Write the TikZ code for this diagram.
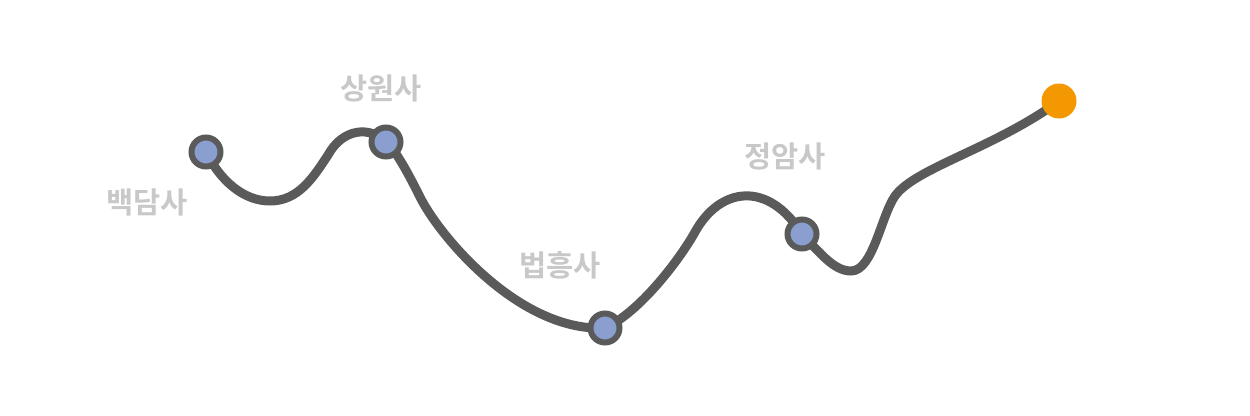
\documentclass[tikz,border=0pt]{standalone}
\usepackage{fontspec}
\newfontfamily\kr{Noto Sans CJK KR}[BoldFont={* Bold}]
\definecolor{pathgray}{RGB}{90,90,90}
\definecolor{stopblue}{RGB}{138,159,207}
\definecolor{endorange}{RGB}{243,152,0}
\definecolor{labelgray}{RGB}{200,200,200}
\tikzset{
  route/.style={draw=pathgray, line width=9pt, line cap=round},
  stopnode/.style={circle, draw=pathgray, fill=stopblue, line width=6pt, minimum size=29pt, inner sep=0pt},
  endnode/.style={circle, fill=endorange, minimum size=35pt, inner sep=0pt},
  stoplabel/.style={text=labelgray, font=\kr\bfseries\fontsize{29.5}{32}\selectfont, inner sep=0pt}
}
\begin{document}
\begin{tikzpicture}[x=1pt,y=-1pt]
\useasboundingbox (0,0) rectangle (1250,415);
\coordinate (A) at (206,152);
\coordinate (B) at (386,142);
\coordinate (C) at (605,328);
\coordinate (D) at (802,234);
\coordinate (E) at (1059,101);
\coordinate (m1) at (270,201);
\coordinate (m2) at (328,155);
\coordinate (m3) at (420,197);
\coordinate (m4) at (695,232);
\coordinate (m5) at (851,271);
\coordinate (m6) at (895,196);
\draw[route] (A) .. controls (220,180) and (243,201) .. (m1)
  .. controls (298,201) and (313,178) .. (m2)
  .. controls (343,128) and (370,126) .. (B)
  .. controls (396,150) and (410,177) .. (m3)
  .. controls (440,237) and (520,332) .. (C)
  .. controls (640,312) and (680,259) .. (m4)
  .. controls (720,187) and (768,180) .. (D)
  .. controls (820,253) and (834,271) .. (m5)
  .. controls (873,271) and (881,216) .. (m6)
  .. controls (915,168) and (995,148) .. (E);
\node[stopnode] (nA) at (A) {};
\node[stopnode] (nB) at (B) {};
\node[stopnode] (nC) at (C) {};
\node[stopnode] (nD) at (D) {};
\node[endnode] (nE) at (E) {};
\node[stoplabel] (lA) at (147,202) {백담사};
\node[stoplabel] (lB) at (381,88) {상원사};
\node[stoplabel] (lC) at (560,265) {법흥사};
\node[stoplabel] (lD) at (785,156) {정암사};
\end{tikzpicture}
\end{document}
